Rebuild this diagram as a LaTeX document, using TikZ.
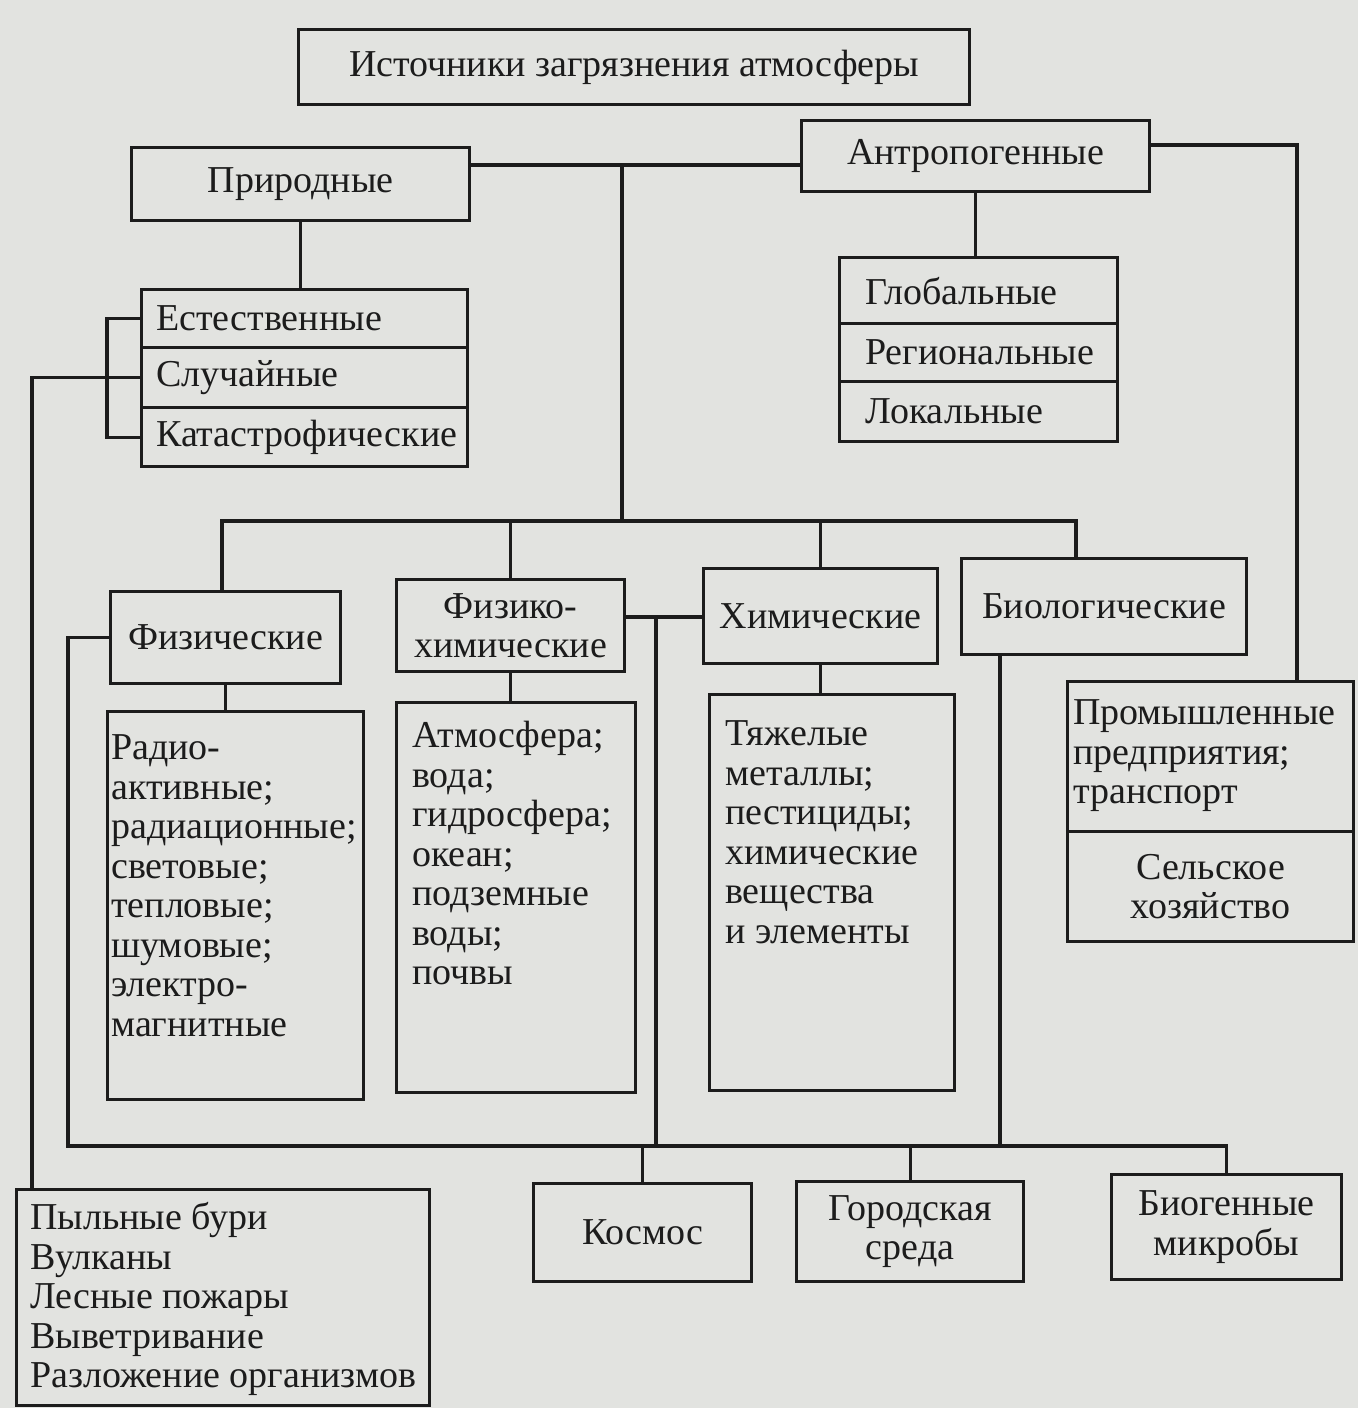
\documentclass[tikz,border=0pt]{standalone}
\usepackage{fontspec}
\setmainfont{Liberation Serif}
\usetikzlibrary{calc}
\definecolor{bgc}{RGB}{226,227,224}
\definecolor{ink}{RGB}{28,28,28}
\begin{document}
\begin{tikzpicture}[x=1pt,y=-1pt,
  ln/.style={draw=ink, line width=3.2pt, line join=miter},
  box/.style={draw=ink, line width=3.2pt, inner sep=0pt, anchor=north west, text=ink,
    font=\fontsize{38}{39.5}\selectfont, align=center},
  txt/.style={text=ink, inner sep=0pt, font=\fontsize{38}{39.5}\selectfont, align=left},
]
\fill[bgc] (0,0) rectangle (1358,1408);
\useasboundingbox (0,0) rectangle (1358,1408);

% boxes
\node[box, minimum width=671pt, minimum height=75pt] (title) at (297,28) {Источники загрязнения атмосферы};
\node[box, minimum width=338pt, minimum height=73pt] (prir) at (130,146) {Природные};
\node[box, minimum width=348pt, minimum height=71pt] (antr) at (800,119) {Антропогенные};

\node[box, minimum width=278pt, minimum height=66pt] (glob) at (838,256) {};
\node[box, minimum width=278pt, minimum height=58pt] (reg) at (838,322) {};
\node[box, minimum width=278pt, minimum height=60pt] (lok) at (838,380) {};
\node[txt, anchor=west] (globT) at ([xshift=27pt]glob.west) {Глобальные};
\node[txt, anchor=west] (regT) at ([xshift=27pt]reg.west) {Региональные};
\node[txt, anchor=west] (lokT) at ([xshift=27pt]lok.west) {Локальные};

\node[box, minimum width=326pt, minimum height=58pt] (est) at (140,288) {};
\node[box, minimum width=326pt, minimum height=60pt] (slu) at (140,346) {};
\node[box, minimum width=326pt, minimum height=59pt] (kat) at (140,406) {};
\node[txt, anchor=west] (estT) at ([xshift=16pt]est.west) {Естественные};
\node[txt, anchor=west] (sluT) at ([xshift=16pt]slu.west) {Случайные};
\node[txt, anchor=west] (katT) at ([xshift=16pt]kat.west) {Катастрофические};

\node[box, minimum width=230pt, minimum height=92pt] (phys) at (109,590) {Физические};
\node[box, minimum width=228pt, minimum height=92pt] (fx) at (395,578) {Физико-\\химические};
\node[box, minimum width=234pt, minimum height=95pt] (chem) at (702,567) {Химические};
\node[box, minimum width=285pt, minimum height=96pt] (bio) at (960,557) {Биологические};

\node[box, minimum width=256pt, minimum height=388pt] (physC) at (106,710) {};
\node[txt, anchor=north west] (physT) at (111,732) {\strut Радио-\\активные;\\радиационные;\\световые;\\тепловые;\\шумовые;\\электро-\\магнитные};
\node[box, minimum width=239pt, minimum height=390pt] (fxC) at (395,701) {};
\node[txt, anchor=north west] (fxT) at (412,720) {\strut Атмосфера;\\вода;\\гидросфера;\\океан;\\подземные\\воды;\\почвы};
\node[box, minimum width=245pt, minimum height=396pt] (chemC) at (708,693) {};
\node[txt, anchor=north west] (chemT) at (725,718) {\strut Тяжелые\\металлы;\\пестициды;\\химические\\вещества\\и элементы};

\node[box, minimum width=286pt, minimum height=150pt] (prom) at (1066,680) {};
\node[txt, anchor=north west] (promT) at (1073,697) {\strut Промышленные\\предприятия;\\транспорт};
\node[box, minimum width=286pt, minimum height=110pt] (sel) at (1066,830) {Сельское\\хозяйство};

\node[box, minimum width=413pt, minimum height=216pt] (dust) at (15,1188) {};
\node[txt, anchor=north west] (dustT) at (30,1202) {\strut Пыльные бури\\Вулканы\\Лесные пожары\\Выветривание\\Разложение организмов};
\node[box, minimum width=218pt, minimum height=98pt] (kos) at (532,1182) {Космос};
\node[box, minimum width=227pt, minimum height=100pt] (gor) at (795,1180) {Городская\\среда};
\node[box, minimum width=230pt, minimum height=105pt] (biog) at (1110,1173) {Биогенные\\микробы};

% junction coordinates
\coordinate (jTop) at (622,165);
\coordinate (jMid) at (622,521);
\coordinate (b1) at (222,521);
\coordinate (b4) at (1076,521);
\coordinate (brk) at (107,0);
\coordinate (lft) at (32,0);
\coordinate (ar) at (1297,145);
\coordinate (pl) at (68,0);
\coordinate (L2) at (68,1146);
\coordinate (fc) at (656,617);
\coordinate (bd) at (1000,0);

% connectors
\draw[ln] (prir.east |- jTop) -- (antr.west |- jTop);
\draw[ln] (jTop) -- (jMid);
\draw[ln] (phys.north -| b1) -- (b1) -- (b4) -- (bio.north -| b4);
\draw[ln] (fx.north) -- (fx.north |- b1);
\draw[ln] (chem.north) -- (chem.north |- b1);

\draw[ln] (prir.south) -- (prir.south |- est.north);
\draw[ln] (antr.south) -- (antr.south |- glob.north);
\draw[ln] (antr.east |- ar) -- (ar) -- (ar |- prom.north);

\draw[ln] (est.west) -- (est.west -| brk) -- (kat.west -| brk) -- (kat.west);
\draw[ln] (slu.west) -- (slu.west -| lft) -- (lft |- dust.north);

\draw[ln] (phys.south) -- (phys.south |- physC.north);
\draw[ln] (fx.south) -- (fx.south |- fxC.north);
\draw[ln] (chem.south) -- (chem.south |- chemC.north);

\draw[ln] (phys.west) -- (phys.west -| pl) -- (L2) -- (L2 -| biog.north) -- (biog.north);
\draw[ln] (fx.east |- fc) -- (chem.west |- fc);
\draw[ln] (fc) -- (fc |- L2);
\draw[ln] (bio.south -| bd) -- (L2 -| bd);
\draw[ln] (kos.north) -- (kos.north |- L2);
\draw[ln] (gor.north) -- (gor.north |- L2);
\end{tikzpicture}
\end{document}
